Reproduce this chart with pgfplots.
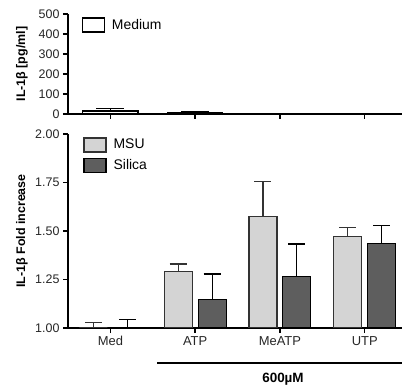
\documentclass[border=0pt]{standalone}
\usepackage{pgfplots}
\pgfplotsset{compat=1.18}
\usepackage{fontspec}
\setmainfont{Liberation Sans}
\definecolor{msu}{HTML}{D4D4D4}
\definecolor{sil}{HTML}{5E5E5E}
\pgfplotsset{
  common/.style={
    scale only axis, width=334bp, xmin=-0.5, xmax=3.44,
    axis x line=bottom, axis y line=left,
    axis line style={line width=1.4bp, -},
    xtick={0,1,2,3},
    tick style={line width=1.4bp, black},
    major tick length=5bp, tick align=outside,
    tick label style={font=\fontsize{12.5}{14}\selectfont, text=black!85},
    /pgf/number format/assume math mode=true,
    ylabel style={font=\bfseries\fontsize{12.5}{14}\selectfont, at={(axis description cs:-0.138,0.5)}, anchor=center},
    legend style={draw=none, fill=none, font=\fontsize{14}{16}\selectfont, inner sep=0pt, row sep=5bp, anchor=north west,
      nodes={inner xsep=7bp, inner ysep=1bp}},
    legend cell align=left,
  },
  boxlegend/.style={
    legend image code/.code={\draw[##1, line width=1.4bp] (0bp,-7bp) rectangle (22bp,7bp);},
  }
}
\begin{document}
\begin{tikzpicture}
\path[use as bounding box] (0bp,0bp) rectangle (405bp,390bp);
% top panel
\begin{axis}[common, at={(68bp,276bp)}, anchor=south west, height=100bp,
  ymin=0, ymax=500, ytick={0,100,200,300,400,500}, xticklabels={},
  ylabel={IL-1β [pg/ml]}, ybar, boxlegend,
  legend style={at={(axis description cs:0.04,0.97)}}]
\addplot[bar width=0.65, bar shift=0, fill=white, draw=black, line width=1.3bp,
  error bars/.cd, y dir=plus, y explicit,
  error bar style={line width=1.2bp, black},
  error mark options={rotate=90, mark size=14bp, line width=1.2bp}]
  table[x=x, y=y, y error=e] {
x y e
0 15 12
1 5 5
};
\addlegendentry{Medium}
\end{axis}
% bottom panel
\begin{axis}[common, at={(68bp,62bp)}, anchor=south west, height=194bp,
  ymin=1, ymax=2, ytick={1,1.25,1.5,1.75,2}, ybar, boxlegend,
  yticklabel style={/pgf/number format/.cd, fixed, fixed zerofill, precision=2},
  xticklabels={Med,ATP,MeATP,UTP},
  xticklabel style={font=\fontsize{13}{15}\selectfont},
  ylabel={IL-1β Fold increase},
  legend style={at={(axis description cs:0.045,0.985)}}]
\addplot[bar width=0.33, bar shift=-0.2, fill=msu, draw=black!80, line width=1.2bp,
  error bars/.cd, y dir=plus, y explicit,
  error bar style={line width=1.2bp, black!80},
  error mark options={rotate=90, mark size=8.5bp, line width=1.2bp}]
  table[x=x, y=y, y error=e] {
x y e
0 1.000 0.030
1 1.290 0.040
2 1.574 0.180
3 1.470 0.047
};
\addlegendentry{MSU}
\addplot[bar width=0.33, bar shift=0.2, fill=sil, draw=black, line width=1.2bp,
  error bars/.cd, y dir=plus, y explicit,
  error bar style={line width=1.2bp, black},
  error mark options={rotate=90, mark size=8.5bp, line width=1.2bp}]
  table[x=x, y=y, y error=e] {
x y e
0 1.000 0.045
1 1.148 0.130
2 1.265 0.168
3 1.437 0.090
};
\addlegendentry{Silica}
\end{axis}
\draw[line width=1.5bp] (157bp,27bp) -- (402bp,27bp);
\node[font=\bfseries\fontsize{13.5}{15}\selectfont] at (283bp,11bp) {600\textmu M};
\end{tikzpicture}
\end{document}
